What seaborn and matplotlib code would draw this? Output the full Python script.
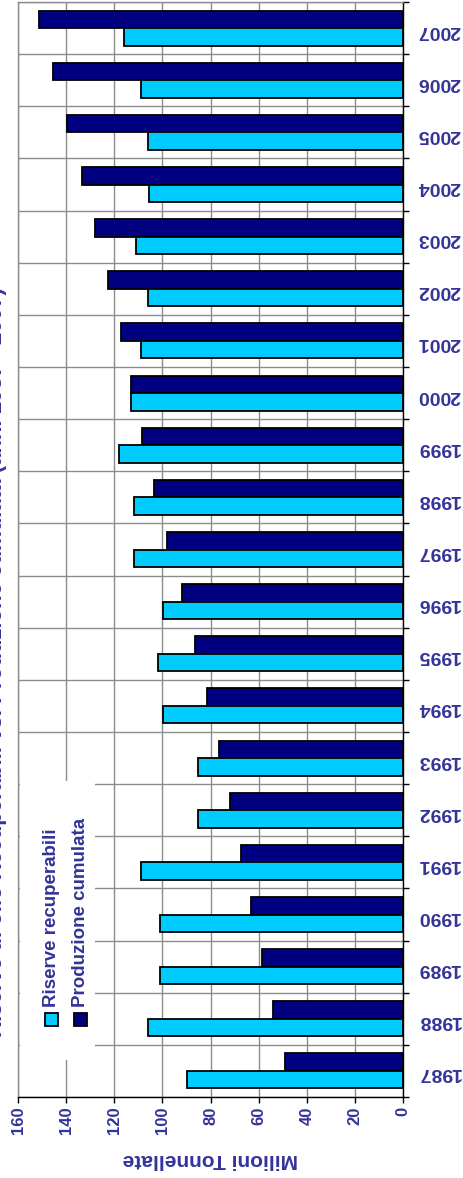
import numpy as np
import pandas as pd
import matplotlib
matplotlib.use("Agg")
import matplotlib.pyplot as plt
from matplotlib.patches import Rectangle
import seaborn as sns

sns.set_style("white")
plt.rcParams['font.family'] = ['Liberation Sans', 'DejaVu Sans']

# data (milioni di tonnellate)
anni = list(range(1987, 2008))
riserve = [89.8, 105.8, 100.8, 100.8, 108.8, 85.0, 85.0, 99.9, 102.0, 99.9, 111.8,
           111.8, 117.9, 113.0, 109.0, 105.8, 110.8, 105.6, 106.0, 108.8, 115.9]
produzione = [49.0, 53.9, 58.5, 63.2, 67.5, 71.8, 76.5, 81.3, 86.6, 91.9, 97.9,
              103.4, 108.5, 113.0, 117.1, 122.6, 128.1, 133.6, 139.8, 145.6, 151.3]
serie = ['Riserve recuperabili', 'Produzione cumulata']
colori = {'Riserve recuperabili': '#00CCFF', 'Produzione cumulata': '#000080'}
x_ticks = [0, 20, 40, 60, 80, 100, 120, 140, 160]
titolo = 'Riserve di olio Recuperabili vs. Produzione cumulata (anni 1987 - 2007)'
testo = '#333399'

df = pd.DataFrame({'anno': [str(a) for a in anni] * 2,
                   'valore': riserve + produzione,
                   'serie': [serie[0]] * len(anni) + [serie[1]] * len(anni)})

fig = plt.figure(figsize=(4.64, 11.78), dpi=100)
ax = fig.add_axes([18 / 464, 1 - 1097 / 1178, 385 / 464, 1095 / 1178])

order = [str(a) for a in anni[::-1]]
sns.barplot(data=df, y='anno', x='valore', hue='serie', orient='h',
            order=order, hue_order=[serie[1], serie[0]], palette=colori,
            saturation=1, width=0.67, edgecolor='black', linewidth=1.3,
            ax=ax, zorder=2)
ax.legend_.remove()

ax.set_xlim(160, 0)
ax.set_ylim(len(order) - 0.5, -0.5)
ax.set_xticks(x_ticks)
ax.set_xticklabels([str(t) for t in x_ticks], rotation=90, fontsize=12,
                   fontweight='bold', color=testo)
ax.set_yticks(np.arange(-0.5, len(order), 1), minor=True)
ax.yaxis.tick_right()
ax.set_yticklabels(order, rotation=180, fontsize=14, fontweight='bold',
                   color=testo)
ax.tick_params(axis='y', which='major', length=0, pad=10, right=False, left=False)
ax.tick_params(axis='y', which='minor', length=4, width=1, color='black',
               right=True, left=False, direction='out')
ax.tick_params(axis='x', which='major', length=4, width=1, color='black',
               bottom=True, direction='out', pad=3)
ax.set_xlabel('')
ax.set_ylabel('')

ax.set_axisbelow(True)
ax.grid(which='major', axis='x', color='#8c8c8c', lw=1)
ax.grid(which='minor', axis='y', color='#8c8c8c', lw=1)
ax.grid(which='major', axis='y', visible=False)

for s in ['left', 'top']:
    ax.spines[s].set_color('#8c8c8c')
    ax.spines[s].set_linewidth(1)
for s in ['right', 'bottom']:
    ax.spines[s].set_color('black')
    ax.spines[s].set_linewidth(1)

# legenda (ruotata)
ax.add_patch(Rectangle((0.004, 0.034), 0.196, 0.255, transform=ax.transAxes,
                       facecolor='white', edgecolor='none', zorder=1))
fig.add_artist(Rectangle((45 / 464, 1 - 1026 / 1178), 13 / 464, 13 / 1178,
                         facecolor=colori[serie[0]], edgecolor='black', lw=1.3))
fig.add_artist(Rectangle((74 / 464, 1 - 1026 / 1178), 13 / 464, 13 / 1178,
                         facecolor=colori[serie[1]], edgecolor='black', lw=1.3))
fig.text(52 / 464, 1 - 1007 / 1178, serie[0], rotation=90, ha='center',
         va='bottom', fontsize=13.5, fontweight='bold', color=testo)
fig.text(81 / 464, 1 - 1007 / 1178, serie[1], rotation=90, ha='center',
         va='bottom', fontsize=13.5, fontweight='bold', color=testo)

fig.text(210 / 464, 1 - 1160 / 1178, 'Milioni Tonnellate', rotation=180,
         ha='center', va='center', fontsize=15, fontweight='bold', color=testo)
fig.text(7.5 / 464, 1 - 662 / 1178, titolo, rotation=90, ha='right',
         va='center', fontsize=16, fontweight='bold', color=testo)

fig.savefig('out.png', dpi=100)
